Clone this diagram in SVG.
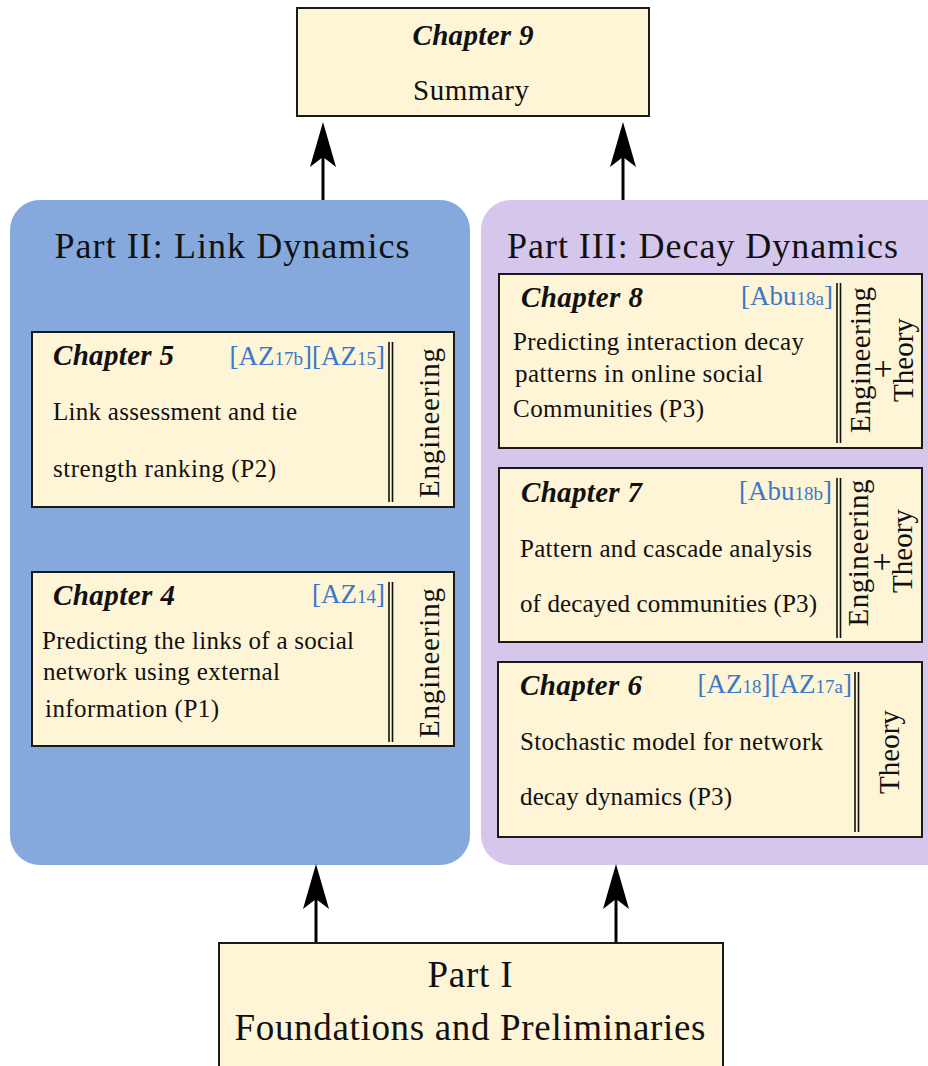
<svg xmlns="http://www.w3.org/2000/svg" width="928" height="1066" viewBox="0 0 928 1066">
  <style>
    .box { fill: #fef4d6; stroke: #1a1a1a; stroke-width: 2; }
    .t { font-family: "Liberation Serif", "Times New Roman", serif; fill: #111; }
    .chap { font-family: "Liberation Serif", serif; font-weight: bold; font-style: italic; font-size: 29px; fill: #111; }
    .body { font-size: 25px; }
    .cite { font-family: "Liberation Serif", serif; font-size: 27px; fill: #3b78c8; text-anchor: end; }
    .sub { font-size: 19px; }
    .side { font-size: 29px; text-anchor: middle; }
    .plus { font-size: 34px; }
    .rule { stroke: #111; stroke-width: 1.6; }
    .conn { stroke: #000; stroke-width: 3; fill: none; marker-end: url(#head); }
  </style>
  <defs>
    <marker id="head" markerUnits="userSpaceOnUse" viewBox="-46 -14 47 28" refX="-35" refY="0" markerWidth="47" markerHeight="28" orient="auto">
      <path d="M0,0 L-45,-13 L-35,0 L-45,13 Z" fill="#000"/>
    </marker>
  </defs>

  <rect width="928" height="1066" fill="#fff"/>

  <!-- part panels -->
  <g id="part2">
    <rect x="10" y="200" width="460" height="665" rx="30" fill="#85a8dd"/>
    <text class="t" x="232" y="258" font-size="36" text-anchor="middle" textLength="355">Part II: Link Dynamics</text>
  </g>
  <g id="part3">
    <rect x="481" y="200" width="480" height="665" rx="30" fill="#d5c6ec"/>
    <text class="t" x="507" y="258" font-size="36" textLength="391">Part III: Decay Dynamics</text>
  </g>

  <!-- connectors -->
  <g id="connectors">
    <line class="conn" x1="323" y1="200" x2="323" y2="157"/>
    <line class="conn" x1="623" y1="200" x2="623" y2="157"/>
    <line class="conn" x1="316" y1="943" x2="316" y2="899"/>
    <line class="conn" x1="616" y1="943" x2="616" y2="899"/>
  </g>

  <g id="chapter9">
    <rect class="box" x="297" y="8" width="352" height="108"/>
    <text class="chap" x="473" y="45" text-anchor="middle" textLength="121">Chapter 9</text>
    <text class="t" x="471" y="100" font-size="29" text-anchor="middle" textLength="116">Summary</text>
  </g>

  <g id="chapter5">
    <rect class="box" x="32" y="332" width="422" height="175"/>
    <text class="chap" x="53" y="365" textLength="121">Chapter 5</text>
    <text class="cite" x="385" y="365">[AZ<tspan class="sub">17b</tspan>][AZ<tspan class="sub">15</tspan>]</text>
    <text class="t body" x="53" y="420" textLength="244">Link assessment and tie</text>
    <text class="t body" x="53" y="477" textLength="223">strength ranking (P2)</text>
    <line class="rule" x1="389" y1="342" x2="389" y2="502"/>
    <line class="rule" x1="392.5" y1="342" x2="392.5" y2="502"/>
    <text class="t side" transform="translate(439 423) rotate(-90)" textLength="150">Engineering</text>
  </g>

  <g id="chapter4">
    <rect class="box" x="32" y="572" width="422" height="174"/>
    <text class="chap" x="53" y="605" textLength="122">Chapter 4</text>
    <text class="cite" x="385" y="603">[AZ<tspan class="sub">14</tspan>]</text>
    <text class="t body" x="42" y="649" textLength="312">Predicting the links of a social</text>
    <text class="t body" x="43" y="680" textLength="237">network using external</text>
    <text class="t body" x="45" y="717" textLength="174">information (P1)</text>
    <line class="rule" x1="389" y1="582" x2="389" y2="742"/>
    <line class="rule" x1="392.5" y1="582" x2="392.5" y2="742"/>
    <text class="t side" transform="translate(439 663) rotate(-90)" textLength="150">Engineering</text>
  </g>

  <g id="chapter8">
    <rect class="box" x="499" y="274" width="423" height="174"/>
    <text class="chap" x="521" y="307" textLength="122">Chapter 8</text>
    <text class="cite" x="833" y="305">[Abu<tspan class="sub">18a</tspan>]</text>
    <text class="t body" x="513" y="350" textLength="291">Predicting interaction decay</text>
    <text class="t body" x="515" y="382" textLength="248">patterns in online social</text>
    <text class="t body" x="513" y="417" textLength="191">Communities (P3)</text>
    <line class="rule" x1="837" y1="283" x2="837" y2="443"/>
    <line class="rule" x1="840.5" y1="283" x2="840.5" y2="443"/>
    <text class="t side" transform="translate(870 360) rotate(-90)" textLength="146">Engineering</text>
    <text class="t side plus" transform="translate(894 369) rotate(-90)">+</text>
    <text class="t side" transform="translate(913 360) rotate(-90)">Theory</text>
  </g>

  <g id="chapter7">
    <rect class="box" x="499" y="468" width="423" height="174"/>
    <text class="chap" x="521" y="502" textLength="121">Chapter 7</text>
    <text class="cite" x="832" y="500">[Abu<tspan class="sub">18b</tspan>]</text>
    <text class="t body" x="520" y="557" textLength="292">Pattern and cascade analysis</text>
    <text class="t body" x="520" y="612" textLength="297">of decayed communities (P3)</text>
    <line class="rule" x1="837" y1="478" x2="837" y2="638"/>
    <line class="rule" x1="840.5" y1="478" x2="840.5" y2="638"/>
    <text class="t side" transform="translate(868 553) rotate(-90)" textLength="147">Engineering</text>
    <text class="t side plus" transform="translate(893 562) rotate(-90)">+</text>
    <text class="t side" transform="translate(912 551) rotate(-90)">Theory</text>
  </g>

  <g id="chapter6">
    <rect class="box" x="498" y="662" width="424" height="175"/>
    <text class="chap" x="520" y="695" textLength="122">Chapter 6</text>
    <text class="cite" x="852" y="693">[AZ<tspan class="sub">18</tspan>][AZ<tspan class="sub">17a</tspan>]</text>
    <text class="t body" x="520" y="750" textLength="303">Stochastic model for network</text>
    <text class="t body" x="520" y="805" textLength="212">decay dynamics (P3)</text>
    <line class="rule" x1="855" y1="672" x2="855" y2="832"/>
    <line class="rule" x1="858.5" y1="672" x2="858.5" y2="832"/>
    <text class="t side" transform="translate(899 752) rotate(-90)">Theory</text>
  </g>

  <g id="part1">
    <rect class="box" x="219" y="943" width="504" height="140"/>
    <text class="t" x="470" y="987" font-size="37" text-anchor="middle" textLength="85">Part I</text>
    <text class="t" x="470" y="1040" font-size="37" text-anchor="middle" textLength="471">Foundations and Preliminaries</text>
  </g>
</svg>
